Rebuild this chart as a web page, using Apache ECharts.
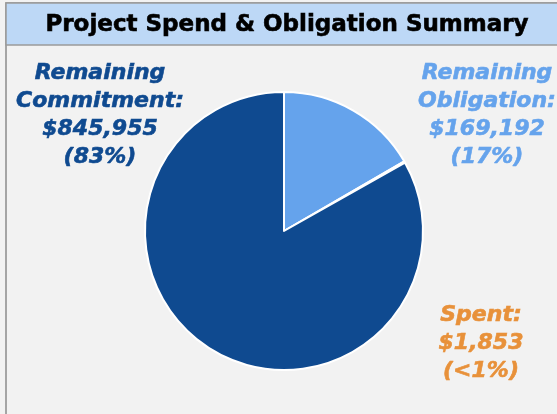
<!DOCTYPE html>
<html>
<head>
<meta charset="utf-8">
<script src="https://cdn.jsdelivr.net/npm/echarts@6/dist/echarts.min.js"></script>
<style>
html, body { margin: 0; padding: 0; background: #f2f2f2; }
#main { width: 557px; height: 414px; }
</style>
</head>
<body>
<div id="main"></div>
<script>
// data
var titleText = 'Project Spend & Obligation Summary';
var names = ['Remaining Obligation', 'Spent', 'Remaining Commitment'];
var shortNames = ['Remaining\nObligation:', 'Spent:', 'Remaining\nCommitment:'];
var values = [169192, 1853, 845955];
var pctText = ['17%', '<1%', '83%'];
var colors = ['#65a3ec', '#e8913a', '#0f4a90'];

// where each label sits (center x, center y)
var labelPos = [[487, 115], [481, 343], [100, 115]];

var myChart = echarts.init(document.getElementById('main'));
window.onresize = myChart.resize;

var pieData = values.map(function (v, i) {
	return {
		name: names[i],
		value: v,
		itemStyle: { color: colors[i] },
		label: { color: colors[i], textBorderColor: colors[i] }
	};
});

function fmtMoney(v) {
	return '$' + v.toLocaleString('en-US');
}

var option = {
	backgroundColor: '#f2f2f2',
	animation: false,
	graphic: [
		{ // left frame line
			type: 'rect',
			shape: { x: 6, y: 3, width: 600, height: 450 },
			style: { fill: 'none', stroke: '#8c8c8c', lineWidth: 1.5 },
			z: 0
		},
		{ // title bar
			type: 'rect',
			shape: { x: 6, y: 3, width: 600, height: 42 },
			style: { fill: '#bdd8f6', stroke: '#9a9a9a', lineWidth: 1.5 },
			z: 1
		}
	],
	title: {
		text: titleText,
		left: 282,
		top: 9,
		textAlign: 'center',
		textStyle: {
			fontFamily: 'DejaVu Sans',
			fontWeight: 'bold',
			fontSize: 23,
			color: '#000',
			textBorderColor: '#000',
			textBorderWidth: 0.6
		}
	},
	series: [{
		type: 'pie',
		center: [284, 231],
		radius: 139,
		startAngle: 90,
		clockwise: true,
		data: pieData,
		itemStyle: { borderColor: '#ffffff', borderWidth: 2 },
		labelLine: { show: false },
		label: {
			show: true,
			position: 'outside',
			overflow: 'none',
			fontFamily: 'DejaVu Sans',
			fontStyle: 'italic',
			fontWeight: 'bold',
			fontSize: 22,
			lineHeight: 28,
			textBorderWidth: 0.6,
			align: 'center',
			formatter: function (p) {
				var i = p.dataIndex;
				return shortNames[i] + '\n' + fmtMoney(values[i]) + '\n(' + pctText[i] + ')';
			}
		},
		labelLayout: function (params) {
			var pos = labelPos[params.dataIndex];
			return {
				x: pos[0],
				y: pos[1],
				align: 'center',
				verticalAlign: 'middle'
			};
		},
		emphasis: { disabled: true }
	}]
};

myChart.setOption(option);
</script>
</body>
</html>
